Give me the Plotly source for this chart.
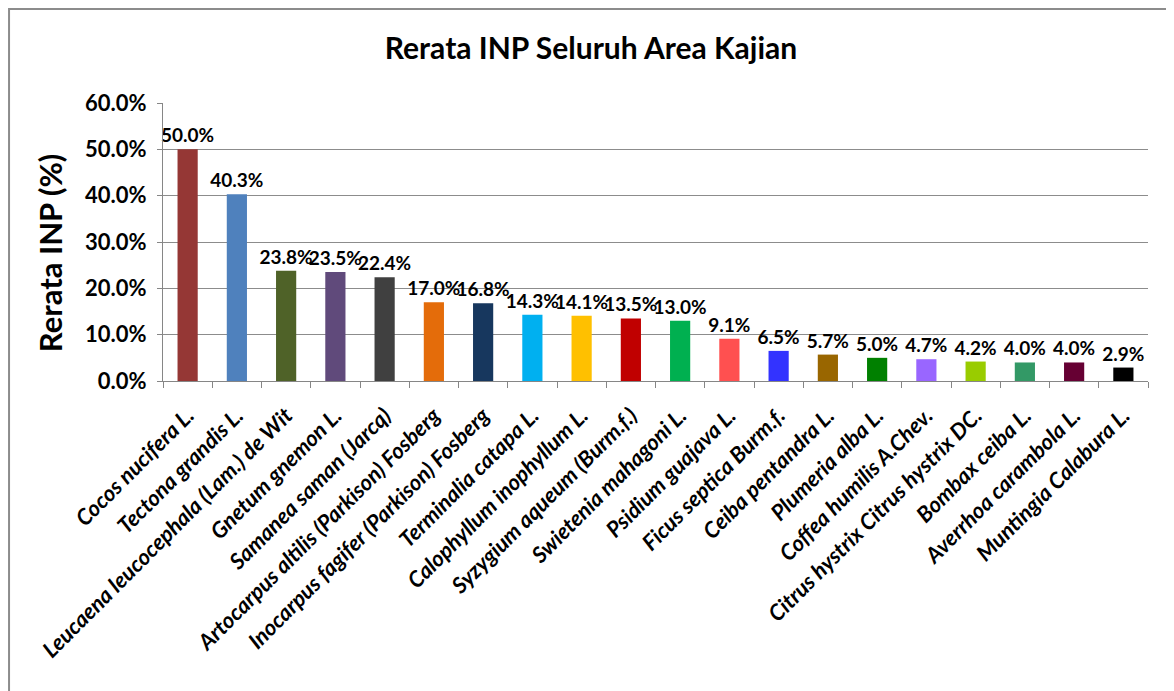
import plotly.graph_objects as go

species = [
    "Cocos nucifera L.",
    "Tectona grandis L.",
    "Leucaena leucocephala (Lam.) de Wit",
    "Gnetum gnemon L.",
    "Samanea saman (Jarcq)",
    "Artocarpus altilis (Parkison) Fosberg",
    "Inocarpus fagifer (Parkison) Fosberg",
    "Terminalia catapa L.",
    "Calophyllum inophyllum L.",
    "Syzygium aqueum (Burm.f.)",
    "Swietenia mahagoni L.",
    "Psidium guajava L.",
    "Ficus septica Burm.f.",
    "Ceiba pentandra L.",
    "Plumeria alba L.",
    "Coffea humilis A.Chev.",
    "Citrus hystrix Citrus hystrix DC.",
    "Bombax ceiba L.",
    "Averrhoa carambola L.",
    "Muntingia Calabura L.",
]

inp_values = [50.0, 40.3, 23.8, 23.5, 22.4, 17.0, 16.8, 14.3, 14.1, 13.5,
              13.0, 9.1, 6.5, 5.7, 5.0, 4.7, 4.2, 4.0, 4.0, 2.9]

bar_colors = [
    "#953735", "#4F81BD", "#4F6228", "#604A7B", "#404040",
    "#E46C0A", "#17375E", "#00B0F0", "#FFC000", "#C00000",
    "#00B050", "#FF5050", "#3333FF", "#996600", "#008000",
    "#9966FF", "#99CC00", "#339966", "#660033", "#000000",
]

y_ticks = [0, 10, 20, 30, 40, 50, 60]

FONT = "Lato"

fig = go.Figure(
    go.Bar(
        x=species,
        y=inp_values,
        marker=dict(color=bar_colors, line=dict(width=0)),
        texttemplate="<b>%{y:.1f}%</b>",
        textposition="outside",
        constraintext="none",
        textfont=dict(family=FONT, size=19, color="black"),
        cliponaxis=False,
    )
)

fig.update_layout(
    width=1166,
    height=683,
    paper_bgcolor="white",
    plot_bgcolor="white",
    margin=dict(l=155, r=26, t=95, b=310),
    bargap=0.59,
    showlegend=False,
    font=dict(family=FONT, color="black"),
    title=dict(
        text="<b>Rerata INP Seluruh Area Kajian</b>",
        x=0.5, xanchor="center", xref="container",
        y=0.941, yanchor="middle", yref="container",
        font=dict(family=FONT, size=30, color="black"),
    ),
)

fig.update_xaxes(
    type="category",
    tickangle=-45,
    tickson="boundaries",
    ticks="outside",
    ticklen=6,
    tickcolor="#868686",
    showline=True,
    linecolor="#868686",
    linewidth=1,
    showgrid=False,
    ticklabelstandoff=12,
    tickfont=dict(family=FONT, size=22, color="black", weight="bold", style="italic"),
    automargin=False,
)

fig.update_yaxes(
    range=[0, 60],
    tickvals=y_ticks,
    ticktext=[f"{v:.1f}%" for v in y_ticks],
    ticks="outside",
    ticklen=5,
    tickcolor="#868686",
    showline=True,
    linecolor="#868686",
    linewidth=1,
    showgrid=True,
    gridcolor="#8C8C8C",
    gridwidth=1,
    zeroline=False,
    ticklabelstandoff=6,
    tickfont=dict(family=FONT, size=22, color="black", weight="bold"),
    automargin=False,
)

fig.add_annotation(
    text="<b>Rerata INP (%)</b>",
    textangle=-90,
    xref="paper", yref="paper",
    x=-0.1147, y=0.46,
    xanchor="center", yanchor="middle",
    showarrow=False,
    font=dict(family=FONT, size=31, color="black"),
)

fig.add_shape(
    type="rect",
    xref="paper", yref="paper",
    x0=-0.1563, x1=1.0234, y0=-1.14, y1=1.338,
    line=dict(color="#8C8C8C", width=2),
    fillcolor="rgba(0,0,0,0)",
    layer="below",
)

fig.write_html("out.html")
